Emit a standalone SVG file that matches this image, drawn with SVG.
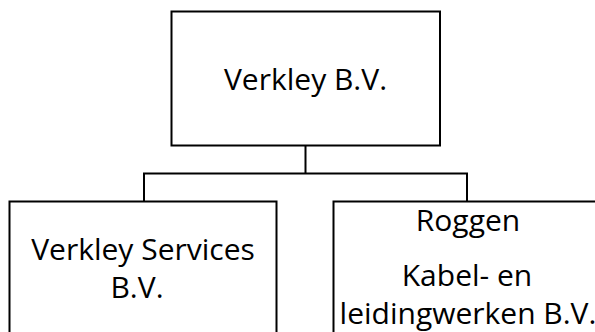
<svg xmlns="http://www.w3.org/2000/svg" width="595" height="332" viewBox="0 0 595 332">
<style>
.box{fill:#fff;stroke:#000;stroke-width:2}
.conn{fill:none;stroke:#000;stroke-width:2}
text{font-family:"Open Sans","Liberation Sans",sans-serif;font-size:30px;fill:#000;text-anchor:middle}
</style>
<rect width="595" height="332" fill="#fff"/>
<g id="connectors">
<path class="conn" d="M305.5 145.5V173.5M144 201.5V173.5H467V201.5"/>
</g>
<g id="node-verkley-bv">
<rect class="box" x="171.5" y="11.5" width="268.5" height="134"/>
<text x="305.5" y="89.5">Verkley B.V.</text>
</g>
<g id="node-verkley-services">
<rect class="box" x="9.5" y="201.5" width="267" height="140"/>
<text x="143" y="259.5">Verkley Services</text>
<text x="137" y="297.5">B.V.</text>
</g>
<g id="node-roggen">
<rect class="box" x="333.5" y="201.5" width="268" height="140"/>
<text x="468" y="231">Roggen</text>
<text x="467" y="285.5">Kabel- en</text>
<text x="468" y="323.5">leidingwerken B.V.</text>
</g>
</svg>
